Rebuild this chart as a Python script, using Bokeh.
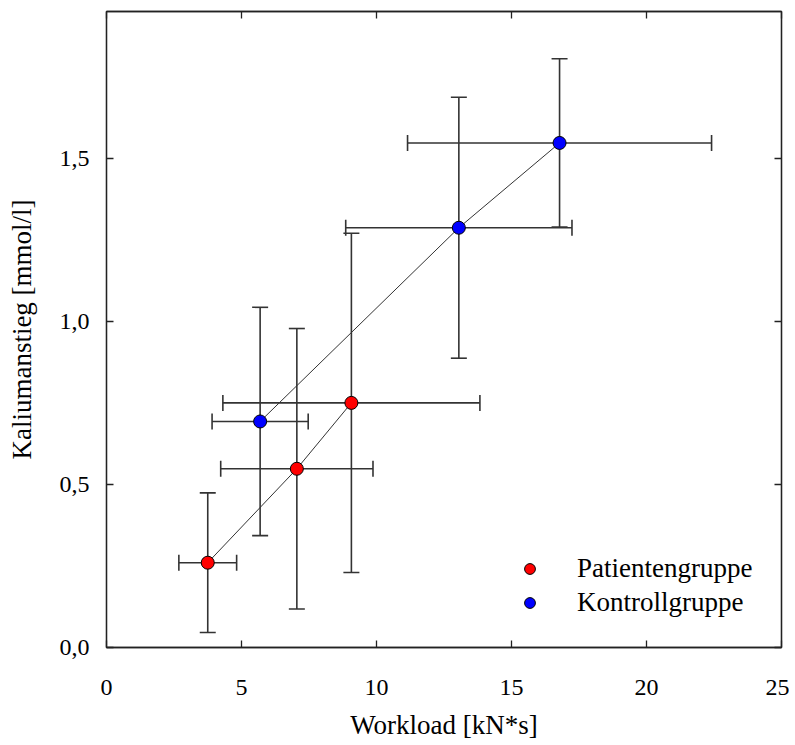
import numpy as np
from bokeh.plotting import figure
from bokeh.models import (ColumnDataSource, Whisker, TeeHead, Range1d, FixedTicker,
                          LinearAxis, Legend, LegendItem, CustomLabelingPolicy)
from bokeh.embed import file_html
from bokeh.resources import INLINE

# ---- data ----
patient_label = "Patientengruppe"
patient_x = [3.75, 7.05, 9.07]
patient_y = [0.26, 0.548, 0.75]
patient_xerr = [1.07, 2.82, 4.76]
patient_yerr = [0.214, 0.43, 0.52]

control_label = "Kontrollgruppe"
control_x = [5.69, 13.05, 16.78]
control_y = [0.693, 1.287, 1.547]
control_xerr = [1.78, 4.19, 5.63]
control_yerr = [0.35, 0.40, 0.258]

x_ticks = [0, 5, 10, 15, 20, 25]
y_ticks = [0.0, 0.5, 1.0, 1.5]
y_tick_labels = ["0,0", "0,5", "1,0", "1,5"]
x_title = "Workload [kN*s]"
y_title = "Kaliumanstieg [mmol/l]"

FONT = "Liberation Serif"
INK = "#222222"

p = figure(width=789, height=744, output_backend="svg", toolbar_location=None,
           x_range=Range1d(0, 25), y_range=Range1d(0, 1.95))
p.min_border_left = 106
p.min_border_top = 11
p.min_border_right = 8
p.min_border_bottom = 97
p.xgrid.visible = False
p.ygrid.visible = False
p.outline_line_color = INK
p.outline_line_width = 1.3
p.background_fill_color = "white"
p.border_fill_color = "white"

no_labels = CustomLabelingPolicy(code="""
    for (const i of indices) indices.unset(i)
    return indices
""")


def style_axis(ax, show_labels):
    ax.major_tick_in = 7
    ax.major_tick_out = 0
    ax.minor_tick_in = 0
    ax.minor_tick_out = 0
    ax.axis_line_color = INK
    ax.axis_line_width = 1.3
    ax.major_tick_line_color = INK
    ax.major_tick_line_width = 1.3
    ax.major_label_text_font = FONT
    ax.major_label_text_color = "black"
    ax.axis_label_text_font = FONT
    ax.axis_label_text_font_style = "normal"
    ax.axis_label_text_color = "black"
    if not show_labels:
        ax.major_label_policy = no_labels
        ax.major_label_text_font_size = "1px"
        ax.major_label_standoff = 0


xa = p.xaxis[0]
ya = p.yaxis[0]
xa.ticker = FixedTicker(ticks=x_ticks)
ya.ticker = FixedTicker(ticks=y_ticks)
ya.major_label_overrides = {t: l for t, l in zip(y_ticks, y_tick_labels)}
style_axis(xa, True)
style_axis(ya, True)
xa.major_label_text_font_size = "24px"
ya.major_label_text_font_size = "24px"
xa.axis_label = x_title
ya.axis_label = y_title
xa.axis_label_text_font_size = "27px"
ya.axis_label_text_font_size = "27px"
xa.major_label_standoff = 32
ya.major_label_standoff = 17
xa.axis_label_standoff = 12
ya.axis_label_standoff = 20

top = LinearAxis(ticker=FixedTicker(ticks=x_ticks))
right = LinearAxis(ticker=FixedTicker(ticks=y_ticks))
style_axis(top, False)
style_axis(right, False)
p.add_layout(top, "above")
p.add_layout(right, "right")


def group(xs, ys, xerr, yerr, color):
    xs = np.array(xs); ys = np.array(ys)
    xerr = np.array(xerr); yerr = np.array(yerr)
    src = ColumnDataSource(dict(x=xs, y=ys,
                                xl=xs - xerr, xu=xs + xerr,
                                yl=ys - yerr, yu=ys + yerr))
    for dim, base, lo, up in (("height", "x", "yl", "yu"), ("width", "y", "xl", "xu")):
        w = Whisker(source=src, base=base, lower=lo, upper=up, dimension=dim,
                    line_color="#333333", line_width=1.6,
                    lower_head=TeeHead(size=16, line_color="#333333", line_width=1.6),
                    upper_head=TeeHead(size=16, line_color="#333333", line_width=1.6))
        p.add_layout(w)
    p.line("x", "y", source=src, line_color="#333333", line_width=1)
    r = p.scatter("x", "y", source=src, size=13, fill_color=color,
                  line_color="black", line_width=1)
    return r


r_pat = group(patient_x, patient_y, patient_xerr, patient_yerr, "#ff0000")
r_con = group(control_x, control_y, control_xerr, control_yerr, "#0000ff")

legend = Legend(items=[LegendItem(label=patient_label, renderers=[r_pat]),
                       LegendItem(label=control_label, renderers=[r_con])],
                location=(410, 29))
legend.label_text_font = FONT
legend.label_text_font_size = "27px"
legend.label_text_color = "black"
legend.glyph_width = 27
legend.glyph_height = 27
legend.label_height = 27
legend.label_standoff = 34
legend.spacing = 3
legend.padding = 0
legend.margin = 0
legend.border_line_alpha = 0
legend.background_fill_alpha = 0
p.add_layout(legend, "center")

open("out.html", "w").write(file_html(p, INLINE))
